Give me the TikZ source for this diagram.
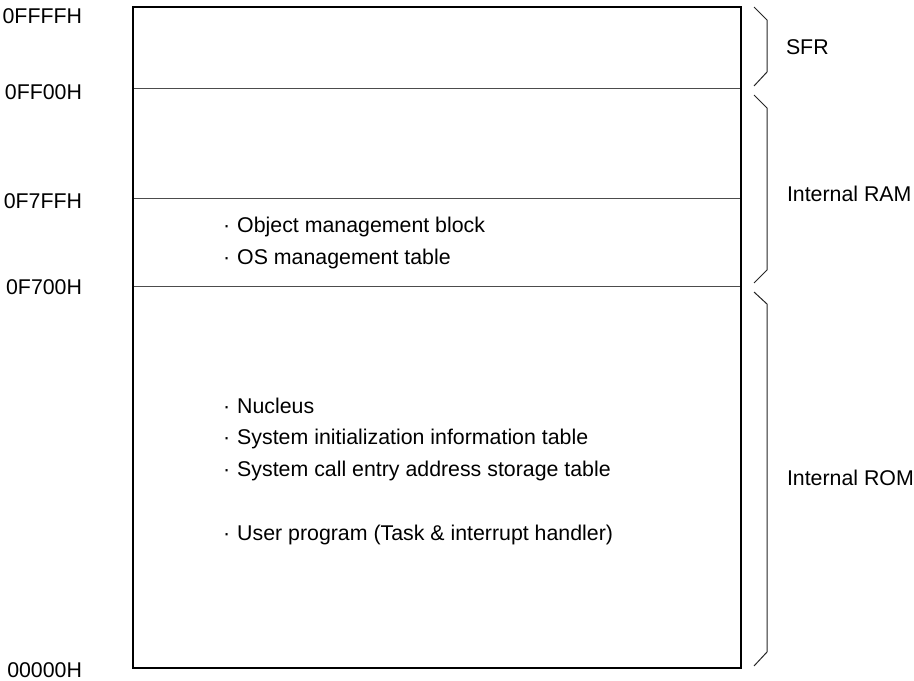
\documentclass[tikz,border=0pt]{standalone}
\usepackage{fontspec}
\setmainfont{Liberation Sans}
\begin{document}
\begin{tikzpicture}[x=0.75pt,y=-0.75pt,
  every node/.style={inner sep=0pt,outer sep=0pt,font=\fontsize{16pt}{18pt}\selectfont},
  addr/.style={anchor=base east},
  item/.style={anchor=base west},
  region/.style={anchor=base west},
  frame/.style={draw=black,line width=1.6pt},
  divider/.style={draw=black!70,line width=0.75pt},
  bracket/.style={draw=black!85,line width=0.75pt,line join=miter}]
\useasboundingbox (0,0) rectangle (914,681);
% memory block
\coordinate (tl) at (133,7);
\coordinate (br) at (741,668);
\draw[divider] (133,89) -- (741,89);
\draw[divider] (133,199) -- (741,199);
\draw[divider] (133,286) -- (741,286);
\draw[frame] (tl) rectangle (br);
% addresses
\node[addr] (a1) at (82,24) {0FFFFH};
\node[addr] (a2) at (82,100) {0FF00H};
\node[addr] (a3) at (82,209) {0F7FFH};
\node[addr] (a4) at (82,294) {0F700H};
\node[addr] (a5) at (82,677) {00000H};
% contents
\node[item] (t1) at (223,233) {·\,\,Object management block};
\node[item] (t2) at (223,264) {·\,\,OS management table};
\node[item] (t3) at (223,413) {·\,\,Nucleus};
\node[item] (t4) at (223,444) {·\,\,System initialization information table};
\node[item] (t5) at (223,476) {·\,\,System call entry address storage table};
\node[item] (t6) at (223,540) {·\,\,User program (Task \& interrupt handler)};
% brackets
\draw[bracket] (754,7) -- (767,20) -- (767,72) -- (754,86);
\draw[bracket] (754,95) -- (767,108) -- (767,270) -- (754,283);
\draw[bracket] (754,292) -- (767,304) -- (767,652) -- (754,666);
\node[region] (r1) at (786,55) {SFR};
\node[region] (r2) at (787,202) {Internal RAM};
\node[region] (r3) at (787,485) {Internal ROM};
\end{tikzpicture}
\end{document}
